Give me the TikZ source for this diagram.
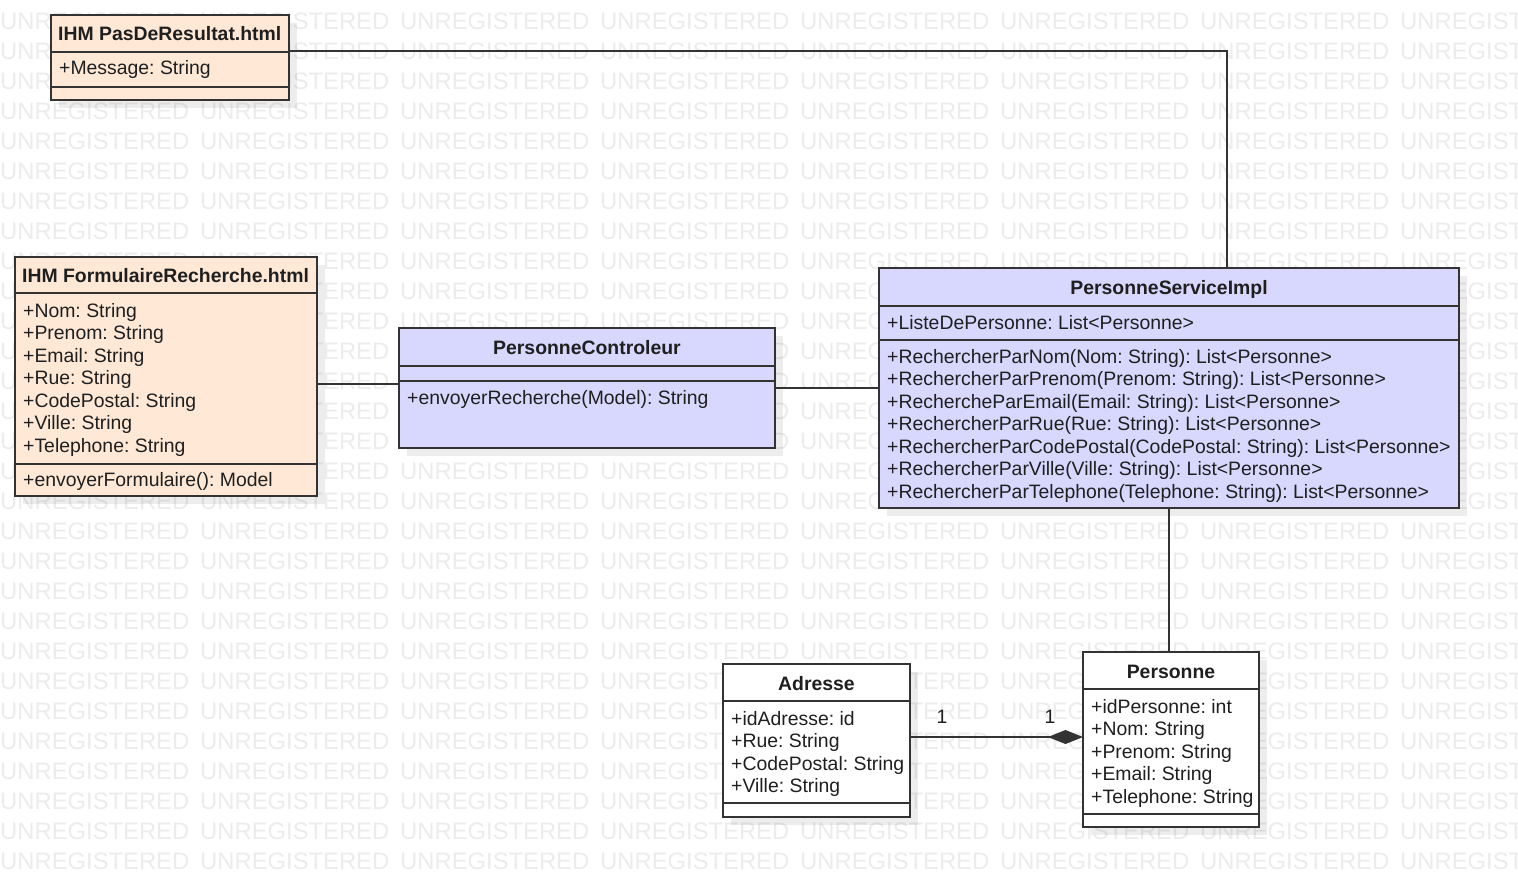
\documentclass[tikz,border=0pt]{standalone}
\usepackage{fontspec}
\setmainfont{Liberation Sans}
\usetikzlibrary{arrows.meta,calc}
\definecolor{peach}{RGB}{255,233,214}
\definecolor{lav}{RGB}{216,216,255}
\definecolor{ln}{RGB}{51,51,51}
\definecolor{wm}{RGB}{236,236,236}
\frenchspacing
\begin{document}
\begin{tikzpicture}[x=1pt,y=-1pt,
  box/.style={draw=ln,line width=1.8pt,inner sep=0pt,outer sep=0pt},
  shadowbox/.style={fill=black,opacity=0.07,inner sep=0pt,outer sep=0pt},
  sepline/.style={draw=ln,line width=1.8pt},
  conn/.style={draw=ln,line width=1.8pt},
  txt/.style={anchor=base west,inner sep=0pt,text=black!88,font=\fontsize{19.4}{22.5}\selectfont},
  ctxt/.style={anchor=base,inner sep=0pt,text=black!88,font=\fontsize{19.4}{22.5}\selectfont\bfseries},
  btxt/.style={anchor=base west,inner sep=0pt,text=black!88,font=\fontsize{19.4}{22.5}\selectfont\bfseries},
  wmtxt/.style={anchor=base west,inner sep=0pt,text=wm,font=\fontsize{23.8}{26}\selectfont}]
\useasboundingbox (0,0) rectangle (1518,888);
\fill[white] (0,0) rectangle (1518,888);
% watermark
\begin{scope}
\clip (0,0) rectangle (1518,888);
\foreach \r in {0,...,28}{
  \foreach \c in {0,...,7}{
    \node[wmtxt] at (200*\c, 29.5+30*\r) {UNREGISTERED};
  }
}
\end{scope}
% shadows
\fill[shadowbox] (59,23) rectangle (297,108);
\fill[shadowbox] (23,265) rectangle (325,504);
\fill[shadowbox] (407,336) rectangle (783,456);
\fill[shadowbox] (887,276) rectangle (1467,516);
\fill[shadowbox] (731,672) rectangle (918,825);
\fill[shadowbox] (1091,660) rectangle (1267,835);
% boxes
\node[box,fill=peach,minimum width=238,minimum height=85] (pas) at (170,57.5) {};
\node[box,fill=peach,minimum width=302,minimum height=239] (form) at (166,376.5) {};
\node[box,fill=lav,minimum width=376,minimum height=120] (ctrl) at (587,388) {};
\node[box,fill=lav,minimum width=580,minimum height=240] (impl) at (1169,388) {};
\node[box,fill=white,minimum width=187,minimum height=153] (adr) at (816.5,740.5) {};
\node[box,fill=white,minimum width=176,minimum height=175] (pers) at (1171,739.5) {};
% compartment lines
\draw[sepline] (pas.west |- 0,52) -- (pas.east |- 0,52);
\draw[sepline] (pas.west |- 0,87) -- (pas.east |- 0,87);
\draw[sepline] (form.west |- 0,293) -- (form.east |- 0,293);
\draw[sepline] (form.west |- 0,464) -- (form.east |- 0,464);
\draw[sepline] (ctrl.west |- 0,366) -- (ctrl.east |- 0,366);
\draw[sepline] (ctrl.west |- 0,381) -- (ctrl.east |- 0,381);
\draw[sepline] (impl.west |- 0,306) -- (impl.east |- 0,306);
\draw[sepline] (impl.west |- 0,340) -- (impl.east |- 0,340);
\draw[sepline] (adr.west |- 0,701) -- (adr.east |- 0,701);
\draw[sepline] (adr.west |- 0,803) -- (adr.east |- 0,803);
\draw[sepline] (pers.west |- 0,689) -- (pers.east |- 0,689);
\draw[sepline] (pers.west |- 0,814) -- (pers.east |- 0,814);
% texts
\node[btxt] (pasT) at (58,41) {IHM PasDeResultat.html};
\node[txt] (pasA) at (59,75) {+Message: String};
\node[btxt] (formT) at (22,282) {IHM FormulaireRecherche.html};
\node[txt] (formA1) at (23,317) {+Nom: String};
\node[txt] (formA2) at (23,339.5) {+Prenom: String};
\node[txt] (formA3) at (23,362) {+Email: String};
\node[txt] (formA4) at (23,384.5) {+Rue: String};
\node[txt] (formA5) at (23,407) {+CodePostal: String};
\node[txt] (formA6) at (23,429.5) {+Ville: String};
\node[txt] (formA7) at (23,452) {+Telephone: String};
\node[txt] (formO1) at (23,486) {+envoyerFormulaire(): Model};
\node[ctxt] (ctrlT) at (587,354) {PersonneControleur};
\node[txt] (ctrlO1) at (407,404) {+envoyerRecherche(Model): String};
\node[ctxt] (implT) at (1169,294) {PersonneServiceImpl};
\node[txt] (implA1) at (887,329) {+ListeDePersonne: List<Personne>};
\node[txt] (implO1) at (887,363) {+RechercherParNom(Nom: String): List<Personne>};
\node[txt] (implO2) at (887,385.5) {+RechercherParPrenom(Prenom: String): List<Personne>};
\node[txt] (implO3) at (887,408) {+RechercheParEmail(Email: String): List<Personne>};
\node[txt] (implO4) at (887,430.5) {+RechercherParRue(Rue: String): List<Personne>};
\node[txt] (implO5) at (887,453) {+RechercherParCodePostal(CodePostal: String): List<Personne>};
\node[txt] (implO6) at (887,475.5) {+RechercherParVille(Ville: String): List<Personne>};
\node[txt] (implO7) at (887,498) {+RechercherParTelephone(Telephone: String): List<Personne>};
\node[ctxt] (adrT) at (816.5,690) {Adresse};
\node[txt] (adrA1) at (731,725) {+idAdresse: id};
\node[txt] (adrA2) at (731,747.5) {+Rue: String};
\node[txt] (adrA3) at (731,770) {+CodePostal: String};
\node[txt] (adrA4) at (731,792.5) {+Ville: String};
\node[ctxt] (persT) at (1171,678) {Personne};
\node[txt] (persA1) at (1091,713) {+idPersonne: int};
\node[txt] (persA2) at (1091,735.5) {+Nom: String};
\node[txt] (persA3) at (1091,758) {+Prenom: String};
\node[txt] (persA4) at (1091,780.5) {+Email: String};
\node[txt] (persA5) at (1091,803) {+Telephone: String};
% connectors
\coordinate (bend) at (1227,51);
\draw[conn] (pas.east |- bend) -- (bend) -- (bend |- impl.north);
\coordinate (fc) at (0,384);
\draw[conn] (form.east |- fc) -- (ctrl.west |- fc);
\coordinate (cc) at (0,388);
\draw[conn] (ctrl.east |- cc) -- (impl.west |- cc);
\coordinate (ip) at (1169,0);
\draw[conn] (impl.south -| ip) -- (pers.north -| ip);
\coordinate (ap) at (0,737);
\draw[conn,-{Diamond[length=35pt,width=14pt]}] (adr.east |- ap) -- (pers.west |- ap);
\node[txt,anchor=base] (m1) at (942,723) {1};
\node[txt,anchor=base] (m2) at (1050,723) {1};
\end{tikzpicture}
\end{document}
